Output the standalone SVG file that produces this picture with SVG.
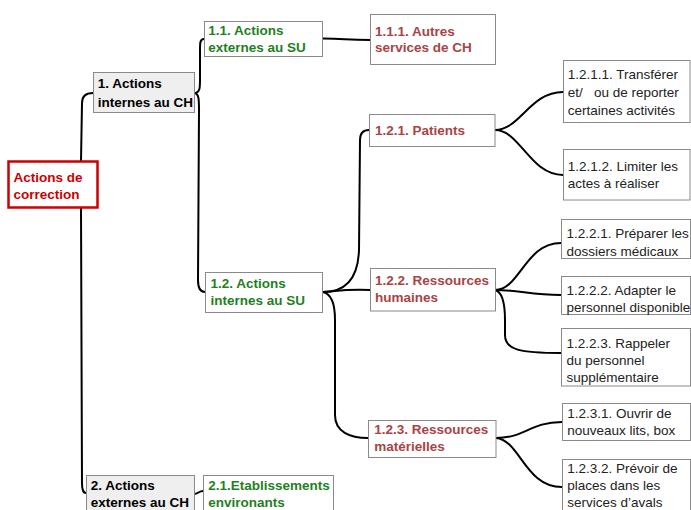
<svg xmlns="http://www.w3.org/2000/svg" width="691" height="510" viewBox="0 0 691 510">
<style>
text{font-family:"Liberation Sans",Arial,sans-serif;font-size:13.5px}
.b{font-weight:bold}
.g{fill:#1f7f1f;font-weight:bold}
.r{fill:#a84444;font-weight:bold}
.k{fill:#000;font-weight:bold}
.n{fill:#222}
.box{fill:#fff;stroke:#8a8a8a;stroke-width:1}
.gray{fill:#efefef;stroke:#8a8a8a;stroke-width:1}
.root{fill:#fff;stroke:#cc0000;stroke-width:2.5}
.c{fill:none;stroke:#000;stroke-width:2}
</style>
<rect width="691" height="510" fill="#fff"/>
<g id="connectors">
<path class="c" d="M81,161 L82,103 C82,96 86,93 93,93"/>
<path class="c" d="M81,208 L82,484 C82,490 84,493 86,493"/>
<path class="c" d="M194,93 C200,93 200,88 200,80 L200,50 C200,43 200,39 204,39"/>
<path class="c" d="M194,93 C199,93 199,100 199,110 L198,280 C198,288 200,292 205,292"/>
<path class="c" d="M323,38.5 C345,38.5 345,40 370,40"/>
<path class="c" d="M194,494 C198,494 199,491 203,491"/>
<path class="c" d="M323,292 C345,292 358,280 359,250 L360,140 C360,133 363,130 369,130"/>
<path class="c" d="M323,292 C345,290 350,289 370,290"/>
<path class="c" d="M323,292 C332,294 335,305 335,320 L335,415 C335,432 350,438 368,438"/>
<path class="c" d="M495,130 C520,130 530,92 563,92"/>
<path class="c" d="M495,130 C520,130 530,175 563,175"/>
<path class="c" d="M495,290 C520,290 525,243 561,243"/>
<path class="c" d="M495,290 C520,290 530,295 561,295"/>
<path class="c" d="M495,290 C503,292 505,305 505,320 L505,335 C505,350 520,353 561,353"/>
<path class="c" d="M496,438 C525,438 530,422 562,422"/>
<path class="c" d="M496,438 C520,440 525,487 562,487"/>
</g>
<g id="root">
<rect class="root" x="8.5" y="161.5" width="89" height="46"/>
<text x="13.5" y="181.5" fill="#cc0000" class="b">Actions de</text>
<text x="13.5" y="198.5" fill="#cc0000" class="b">correction</text>
</g>
<g id="n1">
<rect class="gray" x="93.5" y="72.5" width="101" height="40"/>
<text class="k" x="97.7" y="88.3">1. Actions</text>
<text class="k" x="97.7" y="106.5">internes au CH</text>
</g>
<g id="n2">
<rect class="gray" x="86.5" y="475.5" width="108" height="40"/>
<text class="k" x="90.7" y="490">2. Actions</text>
<text class="k" x="90.7" y="506.7">externes au CH</text>
</g>
<g id="n2_1">
<rect class="box" x="203.5" y="475.5" width="130" height="40"/>
<text class="g" x="208.3" y="490">2.1.Etablissements</text>
<text class="g" x="208.3" y="506.7">environants</text>
</g>
<g id="n1_1">
<rect class="box" x="204.5" y="21.5" width="118" height="35"/>
<text class="g" x="208.3" y="35">1.1. Actions</text>
<text class="g" x="208.3" y="51.7">externes au SU</text>
</g>
<g id="n1_1_1">
<rect class="box" x="370.5" y="14.5" width="125" height="50"/>
<text class="r" x="375" y="35.7">1.1.1. Autres</text>
<text class="r" x="375" y="52.3">services de CH</text>
</g>
<g id="n1_2">
<rect class="box" x="205.5" y="272.5" width="117" height="40"/>
<text class="g" x="210.5" y="287.7">1.2. Actions</text>
<text class="g" x="210.5" y="305">internes au SU</text>
</g>
<g id="n1_2_1">
<rect class="box" x="369.5" y="114.5" width="125.5" height="32"/>
<text class="r" x="375" y="135">1.2.1. Patients</text>
</g>
<g id="n1_2_2">
<rect class="box" x="370.5" y="268.5" width="125" height="42.5"/>
<text class="r" x="375" y="285">1.2.2. Ressources</text>
<text class="r" x="375" y="302.3">humaines</text>
</g>
<g id="n1_2_3">
<rect class="box" x="368.5" y="420.5" width="127.5" height="37"/>
<text class="r" x="374.3" y="434.3">1.2.3. Ressources</text>
<text class="r" x="374.3" y="451">matérielles</text>
</g>
<g id="n1_2_1_1">
<rect class="box" x="563.5" y="60.5" width="126.5" height="62"/>
<text class="n" x="567.7" y="79">1.2.1.1. Transférer</text>
<text class="n" x="567.7" y="97.3" style="white-space:pre" xml:space="preserve">et/   ou de reporter</text>
<text class="n" x="567.7" y="115">certaines activités</text>
</g>
<g id="n1_2_1_2">
<rect class="box" x="563.5" y="149.5" width="126.5" height="50.5"/>
<text class="n" x="567.7" y="171">1.2.1.2. Limiter les</text>
<text class="n" x="567.7" y="188.3">actes à réaliser</text>
</g>
<g id="n1_2_2_1">
<rect class="box" x="561.5" y="219.5" width="129" height="39"/>
<text class="n" x="566.5" y="238.3">1.2.2.1. Préparer les</text>
<text class="n" x="566.5" y="255.7">dossiers médicaux</text>
</g>
<g id="n1_2_2_2">
<rect class="box" x="561.5" y="276.5" width="129" height="38"/>
<text class="n" x="566.5" y="295">1.2.2.2. Adapter le</text>
<text class="n" x="566.5" y="311.7">personnel disponible</text>
</g>
<g id="n1_2_2_3">
<rect class="box" x="561.5" y="328.5" width="129" height="57.5"/>
<text class="n" x="566.5" y="348.3">1.2.2.3. Rappeler</text>
<text class="n" x="566.5" y="365">du personnel</text>
<text class="n" x="566.5" y="381.7">supplémentaire</text>
</g>
<g id="n1_2_3_1">
<rect class="box" x="562.5" y="403.5" width="128" height="37"/>
<text class="n" x="567.3" y="418.3">1.2.3.1. Ouvrir de</text>
<text class="n" x="567.3" y="435">nouveaux lits, box</text>
</g>
<g id="n1_2_3_2">
<rect class="box" x="562.5" y="459.5" width="128" height="60"/>
<text class="n" x="567.3" y="473.3">1.2.3.2. Prévoir de</text>
<text class="n" x="567.3" y="490">places dans les</text>
<text class="n" x="567.3" y="506.7">services d’avals</text>
</g>
</svg>
